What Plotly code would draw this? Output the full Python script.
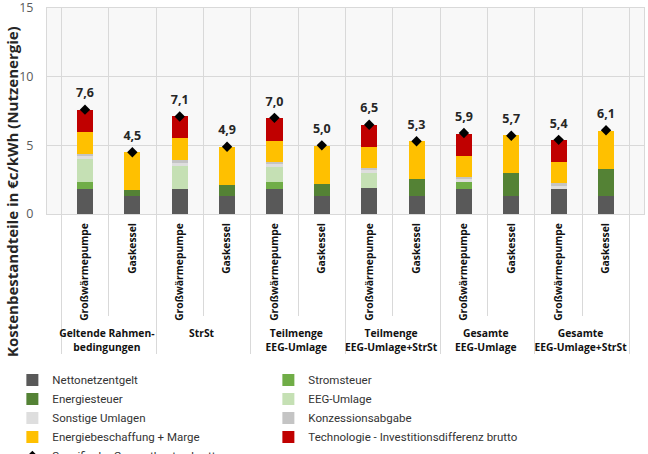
import plotly.graph_objects as go

groups = ["Geltende Rahmen-<br>bedingungen", "StrSt", "Teilmenge<br>EEG-Umlage",
          "Teilmenge<br>EEG-Umlage+StrSt", "Gesamte<br>EEG-Umlage", "Gesamte<br>EEG-Umlage+StrSt"]
techs = ["Großwärmepumpe", "Gaskessel"]

nettonetzentgelt = [1.84, 1.31, 1.84, 1.31, 1.84, 1.31, 1.86, 1.31, 1.84, 1.31, 1.84, 1.31]
stromsteuer      = [0.48, 0, 0, 0, 0.48, 0, 0, 0, 0.48, 0, 0, 0]
energiesteuer    = [0, 0.44, 0, 0.80, 0, 0.87, 0, 1.21, 0, 1.65, 0, 1.99]
eeg_umlage       = [1.69, 0, 1.69, 0, 1.11, 0, 1.14, 0, 0, 0, 0, 0]
sonstige         = [0.20, 0, 0.22, 0, 0.18, 0, 0.18, 0, 0.22, 0, 0.22, 0]
konzession       = [0.16, 0, 0.17, 0, 0.16, 0, 0.16, 0, 0.17, 0, 0.17, 0]
energiebeschaff  = [1.57, 2.78, 1.60, 2.76, 1.57, 2.78, 1.57, 2.76, 1.55, 2.76, 1.57, 2.76]
technologie      = [1.62, 0, 1.62, 0, 1.62, 0, 1.60, 0, 1.60, 0, 1.62, 0]
gesamtkosten     = [7.6, 4.5, 7.1, 4.9, 7.0, 5.0, 6.5, 5.3, 5.9, 5.7, 5.4, 6.1]

series = [
    ("Nettonetzentgelt", nettonetzentgelt, "#595959"),
    ("Stromsteuer", stromsteuer, "#70AD47"),
    ("Energiesteuer", energiesteuer, "#548235"),
    ("EEG-Umlage", eeg_umlage, "#C5E0B4"),
    ("Sonstige Umlagen", sonstige, "#DEDEDE"),
    ("Konzessionsabgabe", konzession, "#C4C4C4"),
    ("Energiebeschaffung + Marge", energiebeschaff, "#FFC000"),
    ("Technologie - Investitionsdifferenz brutto", technologie, "#C00000"),
]

x_outer = [g for g in groups for _ in techs]
x_inner = [t for _ in groups for t in techs]
x = [x_outer, x_inner]

FONT = "Open Sans, Segoe UI, DejaVu Sans, sans-serif"
LEGFONT = "Roboto, Open Sans, sans-serif"

fig = go.Figure()
for name, vals, col in series:
    fig.add_trace(go.Bar(x=x, y=vals, name=name, marker=dict(color=col, line=dict(width=0))))

fig.add_trace(go.Scatter(
    x=x, y=gesamtkosten, mode="markers", name="Spezifische Gesamtkosten brutto",
    marker=dict(symbol="diamond", size=8, color="black")))
fig.add_trace(go.Scatter(
    x=x, y=gesamtkosten, mode="markers+text", showlegend=False,
    text=[f"{v:.1f}".replace(".", ",") for v in gesamtkosten],
    textposition="top center",
    textfont=dict(family=FONT, size=12.5, color="#262626", weight=700),
    marker=dict(size=13, color="rgba(0,0,0,0)"), hoverinfo="skip"))

fig.update_layout(
    width=648, height=454,
    barmode="stack", bargap=0.66,
    paper_bgcolor="white", plot_bgcolor="#F8F8F8",
    margin=dict(l=47, r=4, t=8, b=240, autoexpand=False),
    font=dict(family=FONT, color="#262626"),
    legend=dict(orientation="h", entrywidth=211, entrywidthmode="pixels",
                x=-0.058, xanchor="left", y=-0.735, yanchor="top",
                font=dict(family=LEGFONT, size=11.5, color="#333333"),
                traceorder="normal", itemwidth=30, bgcolor="rgba(0,0,0,0)"),
    xaxis=dict(type="multicategory", tickson="boundaries", showgrid=True,
               gridcolor="#D9D9D9", ticks="outside", ticklen=101, tickcolor="#D9D9D9",
               tickangle=-90, ticklabelstandoff=4,
               tickfont=dict(family=FONT, size=10.3, color="#111111", weight=700),
               showdividers=True, dividercolor="#D9D9D9", dividerwidth=1,
               showline=True, linecolor="#D9D9D9", mirror=True),
    yaxis=dict(range=[0, 15], dtick=5, showgrid=True, gridcolor="#D9D9D9",
               zeroline=False, ticks="", ticklabelstandoff=10, ticklabeloverflow="allow",
               tickfont=dict(family=FONT, size=12.5, color="#595959"),
               showline=True, linecolor="#D9D9D9", mirror=True),
    annotations=[dict(text="Kostenbestandteile in €c/kWh (Nutzenergie)",
                      xref="paper", yref="paper", x=(12 - 47) / 597, y=(214 - 192) / 206,
                      xanchor="center", yanchor="middle", textangle=-90, showarrow=False,
                      font=dict(family=FONT, size=15, color="#262626", weight=700))],
)

fig.write_html("out.html", config={"displayModeBar": False},
               post_script="document.body.style.margin='0';")
